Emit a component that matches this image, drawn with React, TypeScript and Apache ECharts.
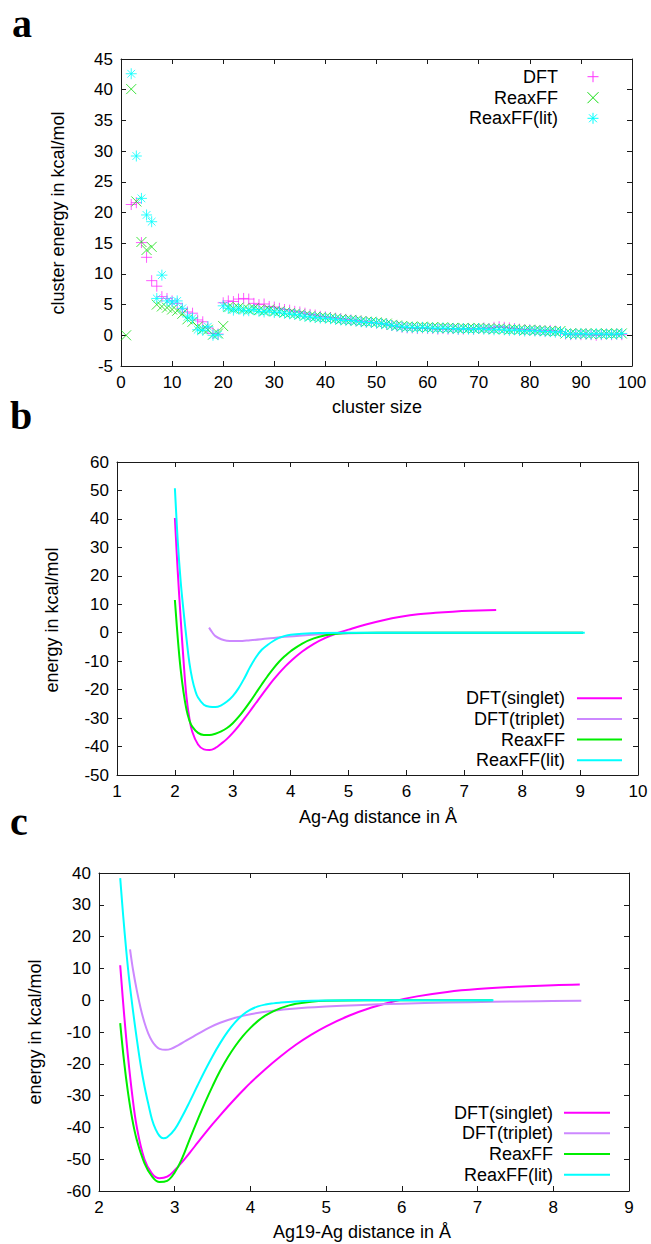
import { useEffect, useRef } from "react";
import * as echarts from "echarts";

// ---------- Panel a: cluster energies ----------
const clusterSizes = [
  1, 2, 3, 4, 5, 6, 7, 8, 9, 10, 11, 12, 13, 14, 15, 16, 17, 18, 19, 20,
  21, 22, 23, 24, 25, 26, 27, 28, 29, 30, 31, 32, 33, 34, 35, 36, 37, 38, 39, 40,
  41, 42, 43, 44, 45, 46, 47, 48, 49, 50, 51, 52, 53, 54, 55, 56, 57, 58, 59, 60,
  61, 62, 63, 64, 65, 66, 67, 68, 69, 70, 71, 72, 73, 74, 75, 76, 77, 78, 79, 80,
  81, 82, 83, 84, 85, 86, 87, 88, 89, 90, 91, 92, 93, 94, 95, 96, 97, 98,
];
const dftCluster = [
  null, 21.3, 21.6, 15.1, 12.7, 8.9, 8.0, 6.3, 6.0, 5.6,
  5.2, 4.3, 3.8, 3.6, 2.5, 2.2, 1.2, 0.3, 0.2, 5.3,
  5.6, 5.5, 5.9, 6.0, 5.9, 5.2, 5.0, 5.1, 4.7, 4.6,
  4.4, 4.2, 4.1, 3.9, 3.8, 3.6, 3.4, 3.3, 3.1, 3.0,
  2.9, 2.8, 2.7, 2.6, 2.5, 2.4, 2.3, 2.2, 2.1, 2.0,
  1.9, 1.8, 1.6, 1.5, 1.3, 1.2, 1.2, 1.1, 1.2, 1.1,
  1.1, 1.0, 1.1, 1.0, 1.1, 1.0, 1.0, 1.1, 1.0, 1.1,
  1.2, 1.1, 1.3, 1.4, 1.3, 1.2, 1.1, 1.0, 0.9, 0.9,
  0.8, 0.8, 0.7, 0.8, 0.7, 0.6, 0.2, 0.1, 0.2, 0.1,
  0.2, 0.1, 0.0, 0.1, 0.2, 0.1, 0.2, 0.1,
];
const reaxCluster = [
  0, 40.1, 21.8, 15.2, 13.9, 14.4, 5.0, 4.7, 4.5, 4.2,
  4.0, 3.5, 2.6, 2.2, 1.4, 1.0, 0.9, 0.1, 0.3, 1.5,
  4.6, 4.4, 4.5, 4.3, 4.2, 4.4, 4.1, 4.0, 4.2, 3.9,
  3.9, 3.7, 3.6, 3.5, 3.4, 3.2, 3.1, 3.0, 2.9, 2.9,
  2.8, 2.7, 2.6, 2.5, 2.5, 2.4, 2.3, 2.2, 2.2, 2.1,
  2.0, 1.9, 1.7, 1.6, 1.5, 1.4, 1.4, 1.3, 1.4, 1.3,
  1.3, 1.2, 1.3, 1.2, 1.2, 1.1, 1.2, 1.1, 1.1, 1.2,
  1.1, 1.1, 1.0, 1.1, 1.0, 0.9, 1.0, 0.9, 0.8, 0.9,
  0.8, 0.8, 0.7, 0.7, 0.6, 0.7, 0.3, 0.3, 0.2, 0.3,
  0.3, 0.2, 0.3, 0.2, 0.3, 0.2, 0.3, 0.3,
];
const reaxLitCluster = [
  null, 42.6, 29.2, 22.3, 19.6, 18.5, 6.0, 9.8, 5.6, 5.4,
  5.6, 4.4, 3.0, 2.8, 0.9, 0.8, 1.4, 0.0, 0.1, 4.8,
  4.4, 4.1, 4.3, 4.0, 4.0, 4.2, 3.9, 3.8, 4.0, 3.7,
  3.8, 3.6, 3.5, 3.4, 3.3, 3.1, 3.0, 2.9, 2.8, 2.8,
  2.7, 2.6, 2.5, 2.4, 2.4, 2.3, 2.2, 2.1, 2.1, 2.0,
  1.9, 1.8, 1.6, 1.5, 1.4, 1.3, 1.3, 1.2, 1.3, 1.2,
  1.2, 1.1, 1.2, 1.1, 1.1, 1.0, 1.1, 1.0, 1.0, 1.1,
  1.0, 1.0, 0.9, 1.0, 0.9, 0.8, 0.9, 0.8, 0.7, 0.8,
  0.7, 0.7, 0.6, 0.6, 0.5, 0.6, 0.3, 0.2, 0.2, 0.3,
  0.2, 0.2, 0.3, 0.2, 0.2, 0.2, 0.2, 0.3,
];

// ---------- Panel b: Ag-Ag dimer curves [distance, energy] ----------
const bDftSinglet = [
  [2.0, 40.3], [2.05, 21.3], [2.1, 5], [2.15, -10], [2.2, -22.5], [2.25, -30], [2.3, -34.8],
  [2.4, -39.3], [2.5, -41], [2.6, -41.2], [2.7, -40.5], [2.8, -39.0], [2.9, -37.3], [3.0, -35.2],
  [3.1, -32.8], [3.2, -30.2], [3.3, -27.5], [3.4, -24.7], [3.5, -21.9], [3.6, -19.2], [3.7, -16.6],
  [3.8, -14.2], [3.9, -12.0], [4.0, -10.0], [4.2, -6.6], [4.4, -3.9], [4.6, -1.8], [4.8, -0.2],
  [5.0, 1.1], [5.3, 2.9], [5.6, 4.4], [5.9, 5.6], [6.2, 6.5], [6.5, 7.0], [6.8, 7.4],
  [7.1, 7.7], [7.55, 8.0],
];
const bDftTriplet = [
  [2.59, 1.8], [2.65, 0], [2.7, -1.2], [2.8, -2.3], [2.9, -2.8], [3.0, -2.95], [3.1, -2.95],
  [3.3, -2.65], [3.6, -2.05], [3.9, -1.45], [4.2, -0.95], [4.5, -0.55], [4.8, -0.3],
  [5.3, -0.1], [6.0, 0], [7.0, 0], [8.0, 0], [9.05, 0],
];
const bReaxFF = [
  [2.0, 11.5], [2.05, -2], [2.1, -13], [2.15, -21], [2.2, -27], [2.25, -30.8], [2.3, -33],
  [2.4, -35.2], [2.5, -35.9], [2.6, -35.9], [2.7, -35.5], [2.8, -34.7], [2.9, -33.5], [3.0, -31.8],
  [3.1, -29.6], [3.2, -27.0], [3.3, -24.2], [3.4, -21.2], [3.5, -18.2], [3.6, -15.3], [3.7, -12.6],
  [3.8, -10.2], [3.9, -8.2], [4.0, -6.5], [4.2, -3.8], [4.4, -2.0], [4.6, -0.9], [4.8, -0.35],
  [5.0, -0.1], [5.5, 0], [6.5, 0], [7.5, 0], [8.5, 0], [9.05, 0],
];
const bReaxFFLit = [
  [2.0, 50.8], [2.05, 32], [2.1, 18], [2.15, 7.5], [2.2, -2], [2.25, -10.5], [2.3, -16.3],
  [2.35, -20.2], [2.4, -22.8], [2.5, -25.3], [2.6, -26.0], [2.7, -26.1], [2.8, -25.5],
  [2.9, -24.2], [3.0, -22.3], [3.1, -19.5], [3.2, -16.0], [3.3, -12.0], [3.4, -8.6],
  [3.5, -6.0], [3.6, -4.3], [3.7, -2.9], [3.8, -1.8], [3.9, -1.1], [4.0, -0.7], [4.2, -0.35],
  [4.5, -0.1], [5.0, 0], [6.0, 0], [7.0, 0], [8.0, 0], [9.08, 0],
];

// ---------- Panel c: Ag19-Ag curves [distance, energy] ----------
const cDftSinglet = [
  [2.28, 11], [2.33, -4], [2.38, -17], [2.44, -30], [2.5, -40], [2.6, -50], [2.7, -54.5],
  [2.8, -56], [2.9, -55.5], [3.0, -53.5], [3.1, -50.8], [3.2, -47.9], [3.3, -44.9], [3.4, -41.9],
  [3.5, -39.0], [3.6, -36.2], [3.7, -33.5], [3.8, -30.9], [3.9, -28.4], [4.0, -26.0],
  [4.2, -21.6], [4.4, -17.6], [4.6, -14.0], [4.8, -10.9], [5.0, -8.2], [5.3, -4.9],
  [5.6, -2.3], [5.9, -0.3], [6.2, 1.2], [6.6, 2.6], [7.0, 3.5], [7.5, 4.2], [8.0, 4.7],
  [8.35, 4.9],
];
const cDftTriplet = [
  [2.41, 16], [2.45, 9.5], [2.5, 3], [2.55, -2.5], [2.6, -7], [2.65, -10.4], [2.7, -12.8],
  [2.75, -14.4], [2.8, -15.3], [2.88, -15.6], [2.95, -15.3], [3.05, -14.1], [3.15, -12.7],
  [3.3, -10.7], [3.45, -8.7], [3.6, -7.1], [3.8, -5.5], [4.0, -4.4], [4.3, -3.3],
  [4.6, -2.6], [5.0, -2.0], [5.4, -1.55], [6.0, -1.1], [6.6, -0.75], [7.2, -0.5],
  [7.8, -0.3], [8.37, -0.2],
];
const cReaxFF = [
  [2.28, -7.2], [2.33, -19], [2.38, -28.5], [2.44, -37.5], [2.5, -44], [2.6, -51.2],
  [2.7, -55.4], [2.8, -57.2], [2.9, -56.8], [3.0, -54.2], [3.1, -49.6], [3.2, -43.6],
  [3.3, -37.8], [3.4, -32.2], [3.5, -27.0], [3.6, -22.2], [3.7, -18.0], [3.8, -14.4],
  [3.9, -11.3], [4.0, -8.7], [4.1, -6.5], [4.2, -4.8], [4.3, -3.5], [4.4, -2.5], [4.5, -1.7],
  [4.6, -1.1], [4.8, -0.45], [5.0, -0.15], [5.5, 0], [6.5, 0], [7.2, 0],
];
const cReaxFFLit = [
  [2.28, 38.4], [2.32, 26.4], [2.36, 15.6], [2.4, 6.2], [2.45, -3.5], [2.5, -12.3],
  [2.55, -20.3], [2.6, -27.0], [2.65, -32.5], [2.7, -37.5], [2.75, -40.7], [2.8, -42.7],
  [2.85, -43.4], [2.9, -43.1], [3.0, -40.6], [3.1, -36.5], [3.2, -31.8], [3.3, -26.9],
  [3.4, -22.1], [3.5, -17.6], [3.6, -13.5], [3.7, -9.9], [3.8, -6.9], [3.9, -4.6],
  [4.0, -3.0], [4.1, -1.95], [4.2, -1.35], [4.3, -1.0], [4.4, -0.75], [4.5, -0.55],
  [4.6, -0.4], [4.8, -0.2], [5.0, -0.1], [6.0, 0], [7.21, 0],
];

// ---------- Tick specs ----------
const aX = { min: 0, max: 100, interval: 10 };
const aY = { min: -5, max: 45, interval: 5 };
const bX = { min: 1, max: 10, interval: 1 };
const bY = { min: -50, max: 60, interval: 10 };
const cX = { min: 2, max: 9, interval: 1 };
const cY = { min: -60, max: 40, interval: 10 };

const curveNames = ["DFT(singlet)", "DFT(triplet)", "ReaxFF", "ReaxFF(lit)"];
const curveColors = ["#ff00ff", "#cc88ff", "#00ee00", "#00ffff"];
const scatterNames = ["DFT", "ReaxFF", "ReaxFF(lit)"];
const scatterColors = ["#ff33ff", "#11dd11", "#00ffff"];

const FONT = "'Liberation Sans', Arial, Helvetica, sans-serif";
const SERIF = "'Liberation Serif', 'Times New Roman', serif";

const PLUS = "path://M0,5L10,5M5,0L5,10";
const CROSS = "path://M0,0L10,10M0,10L10,0";
const STAR = "path://M0,5L10,5M5,0L5,10M1.5,1.5L8.5,8.5M1.5,8.5L8.5,1.5";

const grids = [
  { left: 121, top: 59, width: 511, height: 307 },
  { left: 117, top: 462, width: 521, height: 313 },
  { left: 99, top: 873, width: 530, height: 318 },
];

const axisLineStyle = { color: "#1a1a1a", width: 1 };

function makeXAxes(gridIndex: number, spec: any) {
  const common = {
    type: "value",
    gridIndex,
    min: spec.min,
    max: spec.max,
    interval: spec.interval,
    axisLine: { show: true, onZero: false, lineStyle: axisLineStyle },
    axisTick: { show: true, inside: true, length: 5, lineStyle: axisLineStyle },
    splitLine: { show: false },
  };
  return [
    { ...common, position: "bottom", axisLabel: { color: "#000", fontSize: 17, fontFamily: FONT, margin: 8 } },
    { ...common, position: "top", axisLabel: { show: false } },
  ];
}
function makeYAxes(gridIndex: number, spec: any) {
  const common = {
    type: "value",
    gridIndex,
    min: spec.min,
    max: spec.max,
    interval: spec.interval,
    axisLine: { show: true, onZero: false, lineStyle: axisLineStyle },
    axisTick: { show: true, inside: true, length: 5, lineStyle: axisLineStyle },
    splitLine: { show: false },
  };
  return [
    { ...common, position: "left", axisLabel: { color: "#000", fontSize: 17, fontFamily: FONT, margin: 8 } },
    { ...common, position: "right", axisLabel: { show: false } },
  ];
}

function txt(x: number, y: number, text: string, opts: any = {}) {
  return {
    type: "text",
    x,
    y,
    rotation: opts.rotation || 0,
    silent: true,
    style: {
      text,
      fill: "#000",
      font: opts.font || `18px ${FONT}`,
      textAlign: opts.align || "center",
      textVerticalAlign: "middle",
      align: opts.align || "center",
      verticalAlign: "middle",
    },
  };
}

function seg(x1: number, y1: number, x2: number, y2: number, color: string, w: number) {
  return { type: "line", silent: true, shape: { x1, y1, x2, y2 }, style: { stroke: color, lineWidth: w } };
}

function markerShapes(kind: string, cx: number, cy: number, color: string) {
  const r = 5.5;
  const out: any[] = [];
  if (kind === "plus" || kind === "star") {
    out.push(seg(cx - r, cy, cx + r, cy, color, 1));
    out.push(seg(cx, cy - r, cx, cy + r, color, 1));
  }
  if (kind === "cross") {
    out.push(seg(cx - r, cy - r, cx + r, cy + r, color, 1));
    out.push(seg(cx - r, cy + r, cx + r, cy - r, color, 1));
  }
  if (kind === "star") {
    const d = r * 0.72;
    out.push(seg(cx - d, cy - d, cx + d, cy + d, color, 1));
    out.push(seg(cx - d, cy + d, cx + d, cy - d, color, 1));
  }
  return out;
}

export default function App() {
  const ref = useRef<HTMLDivElement>(null);

  useEffect(() => {
    if (!ref.current) return;
    const chart = echarts.init(ref.current, null, { renderer: "svg" });

    const pairs = (vals: (number | null)[]) =>
      clusterSizes.map((s, i) => [s, vals[i]]).filter((p) => p[1] !== null);

    const scatterSymbols = [PLUS, CROSS, STAR];
    const scatterSizes = [11, 10, 11];
    const scatterData = [dftCluster, reaxCluster, reaxLitCluster];
    const scatterSeries = scatterNames.map((name, i) => ({
      type: "scatter",
      name,
      xAxisIndex: 0,
      yAxisIndex: 0,
      data: pairs(scatterData[i]),
      symbol: scatterSymbols[i],
      symbolSize: scatterSizes[i],
      itemStyle: { color: "transparent", borderColor: scatterColors[i], borderWidth: 1 },
      silent: true,
    }));

    const bData = [bDftSinglet, bDftTriplet, bReaxFF, bReaxFFLit];
    const cData = [cDftSinglet, cDftTriplet, cReaxFF, cReaxFFLit];
    const lineSeries = (data: any[], axisIdx: number) =>
      curveNames.map((name, i) => ({
        type: "line",
        name,
        xAxisIndex: axisIdx,
        yAxisIndex: axisIdx,
        data: data[i],
        showSymbol: false,
        smooth: 0.4,
        lineStyle: { color: curveColors[i], width: 2 },
        itemStyle: { color: curveColors[i] },
        silent: true,
      }));

    const graphics: any[] = [];
    // Panel letters
    graphics.push(txt(12, 23, "a", { font: `bold 40px ${SERIF}`, align: "left" }));
    graphics.push(txt(10, 415, "b", { font: `bold 40px ${SERIF}`, align: "left" }));
    graphics.push(txt(10, 821, "c", { font: `bold 40px ${SERIF}`, align: "left" }));
    // Axis titles
    graphics.push(txt(377, 407, "cluster size"));
    graphics.push(txt(58, 213, "cluster energy in kcal/mol", { rotation: Math.PI / 2 }));
    graphics.push(txt(378, 817, "Ag-Ag distance in Å"));
    graphics.push(txt(52, 620, "energy in kcal/mol", { rotation: Math.PI / 2 }));
    graphics.push(txt(362, 1232, "Ag19-Ag distance in Å"));
    graphics.push(txt(35, 1032, "energy in kcal/mol", { rotation: Math.PI / 2 }));

    // Legend a
    const aRows = [76.7, 97.7, 118.3];
    const kinds = ["plus", "cross", "star"];
    scatterNames.forEach((n, i) => {
      graphics.push(txt(558, aRows[i], n, { align: "right" }));
      graphics.push(...markerShapes(kinds[i], 593, aRows[i], scatterColors[i]));
    });
    // Legend b
    const bRows = [698.3, 719, 739.5, 760.2];
    curveNames.forEach((n, i) => {
      graphics.push(txt(565, bRows[i], n, { align: "right" }));
      graphics.push(seg(577, bRows[i], 622, bRows[i], curveColors[i], 2));
    });
    // Legend c
    const cRows = [1112.7, 1133.3, 1154, 1174.7];
    curveNames.forEach((n, i) => {
      graphics.push(txt(553, cRows[i], n, { align: "right" }));
      graphics.push(seg(564, cRows[i], 610, cRows[i], curveColors[i], 2));
    });

    chart.setOption({
      animation: false,
      backgroundColor: "#ffffff",
      grid: grids.map((g) => ({ ...g, containLabel: false })),
      xAxis: [...makeXAxes(0, aX), ...makeXAxes(1, bX), ...makeXAxes(2, cX)],
      yAxis: [...makeYAxes(0, aY), ...makeYAxes(1, bY), ...makeYAxes(2, cY)],
      series: [...scatterSeries, ...lineSeries(bData, 2), ...lineSeries(cData, 4)],
      graphic: graphics,
    });

    return () => chart.dispose();
  }, []);

  return (
    <div
      ref={ref}
      style={{ position: "absolute", left: 0, top: 0, width: 651, height: 1244, background: "#fff" }}
    />
  );
}
